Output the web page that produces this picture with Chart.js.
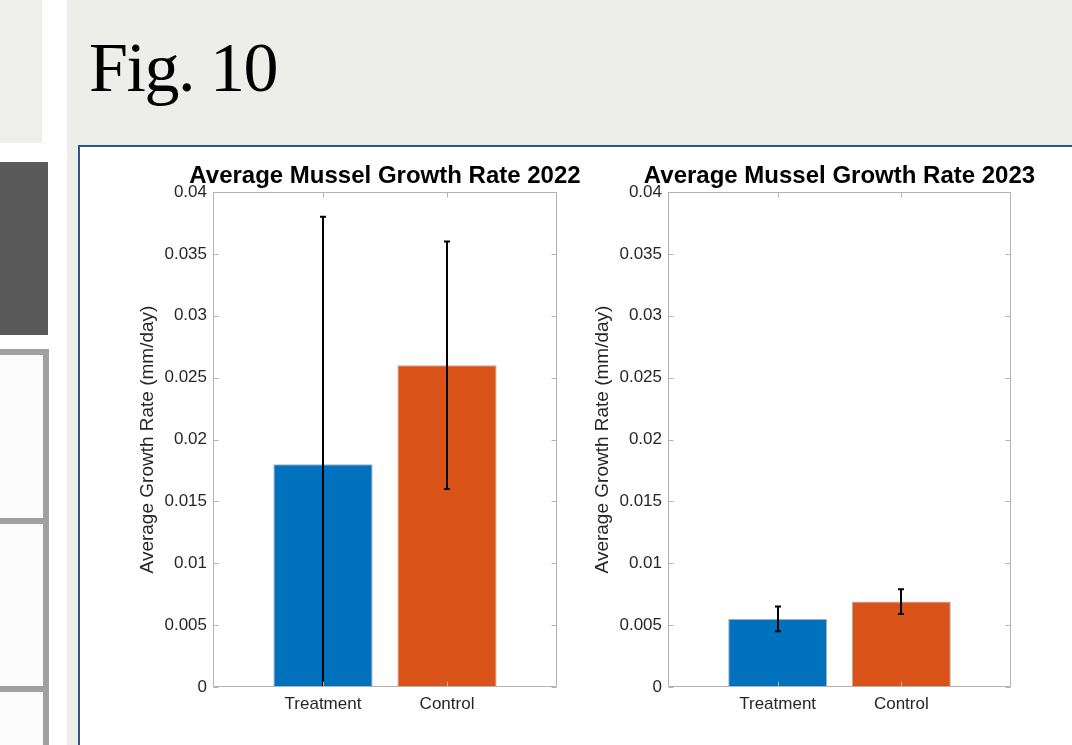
<!DOCTYPE html>
<html>
<head>
<meta charset="utf-8">
<title>Fig. 10</title>
<script src="https://cdn.jsdelivr.net/npm/chart.js@4.4.0/dist/chart.umd.min.js"></script>
<style>
  body { margin: 0; width: 1072px; height: 745px; overflow: hidden; background: #fff; position: relative; }
  .abs { position: absolute; }
  .bar { position: absolute; background: #a0a0a0; }
  #fig { left: 89px; top: 33px; font-family: "Liberation Serif", serif; font-size: 70px; line-height: 70px; letter-spacing: -1.5px; color: #000; }
</style>
</head>
<body>
<!-- slide pieces around the figure -->
<div class="abs" style="left:0;top:0;width:42px;height:143px;background:#eeeeec"></div>
<div class="abs" style="left:0;top:162px;width:48px;height:173px;background:#595959"></div>
<div class="abs" style="left:0;top:349px;width:49px;height:396px;background:#fbfbfb"></div>
<div class="bar" style="left:0;top:349px;width:49px;height:6px"></div>
<div class="bar" style="left:0;top:518px;width:49px;height:6px"></div>
<div class="bar" style="left:0;top:686px;width:49px;height:6px"></div>
<div class="bar" style="left:43px;top:349px;width:6px;height:396px"></div>
<div class="abs" style="left:67px;top:0;width:1005px;height:745px;background:#ededea"></div>
<div class="abs" id="fig">Fig. 10</div>
<div class="abs" style="left:78px;top:145px;width:1000px;height:620px;border:2px solid #2c5593;background:#fff"></div>
<div class="abs" style="left:120px;top:148px"><canvas id="chart2022" width="470" height="597"></canvas></div>
<div class="abs" style="left:580px;top:148px"><canvas id="chart2023" width="470" height="597"></canvas></div>

<script>
// data
const categories = ['Treatment', 'Control'];
const growth2022 = [0.018, 0.026];
const err2022 = [0.020, 0.010];
const growth2023 = [0.0055, 0.0069];
const err2023 = [0.001, 0.001];
const yTicks = [0, 0.005, 0.01, 0.015, 0.02, 0.025, 0.03, 0.035, 0.04];
const barColors = ['#0072BD', '#D95319'];

const FONT = '"Liberation Sans", Arial, sans-serif';

// error bars, matlab style box with inward ticks, and the title
// (title drawn here so it can be wider than the plot and still centred on it)
const matlabAxes = {
  id: 'matlabAxes',
  afterDatasetsDraw(chart, args, opts) {
    const ctx = chart.ctx;
    const a = chart.chartArea;
    const x = chart.scales.x, y = chart.scales.y;
    const vals = chart.data.datasets[0].data;

    ctx.save();
    ctx.beginPath();
    ctx.rect(a.left, a.top, a.right - a.left, a.bottom - a.top);
    ctx.clip();
    ctx.strokeStyle = '#000';
    ctx.lineWidth = 2;
    opts.errors.forEach(function (e, i) {
      const v = vals[i].y;
      const px = Math.round(x.getPixelForValue(i + 1));
      const hi = y.getPixelForValue(v + e);
      const lo = y.getPixelForValue(v - e);
      ctx.beginPath();
      ctx.moveTo(px, hi); ctx.lineTo(px, lo);
      ctx.moveTo(px - 3, hi); ctx.lineTo(px + 3, hi);
      ctx.moveTo(px - 3, lo); ctx.lineTo(px + 3, lo);
      ctx.stroke();
    });
    ctx.restore();

    ctx.save();
    ctx.strokeStyle = '#b3b3b3';
    ctx.lineWidth = 1;
    const L = Math.round(a.left) + 0.5, R = Math.round(a.right) - 0.5;
    const T = Math.round(a.top) + 0.5, B = Math.round(a.bottom) - 0.5;
    ctx.strokeRect(L, T, R - L, B - T);
    ctx.beginPath();
    yTicks.forEach(function (t) {
      const py = Math.round(y.getPixelForValue(t)) + 0.5;
      ctx.moveTo(L, py); ctx.lineTo(L + 5, py);
      ctx.moveTo(R, py); ctx.lineTo(R - 5, py);
    });
    categories.forEach(function (c, i) {
      const px = Math.round(x.getPixelForValue(i + 1)) + 0.5;
      ctx.moveTo(px, B); ctx.lineTo(px, B - 5);
      ctx.moveTo(px, T); ctx.lineTo(px, T + 5);
    });
    ctx.stroke();

    ctx.fillStyle = '#000';
    ctx.font = 'bold 24px ' + FONT;
    ctx.textAlign = 'center';
    ctx.textBaseline = 'alphabetic';
    ctx.fillText(opts.title, (a.left + a.right) / 2, a.top - 9);
    ctx.restore();
  }
};

function makeChart(id, title, values, errors, axisWidth, rightPad, yTitlePad) {
  return new Chart(document.getElementById(id), {
    type: 'bar',
    data: {
      datasets: [{
        data: values.map(function (v, i) { return {x: i + 1, y: v}; }),
        backgroundColor: barColors,
        borderColor: 'rgba(70,70,70,0.45)',
        borderWidth: 1,
        barPercentage: 0.8,
        categoryPercentage: 1
      }]
    },
    options: {
      responsive: false,
      animation: false,
      layout: { padding: { top: 44, right: rightPad, bottom: 0, left: 0 } },
      plugins: {
        legend: { display: false },
        tooltip: { enabled: false },
        title: { display: false },
        matlabAxes: { errors: errors, title: title }
      },
      scales: {
        x: {
          type: 'linear',
          offset: false,
          min: 0.113,
          max: 2.887,
          grid: { display: false, drawTicks: false },
          border: { display: false },
          afterBuildTicks: function (scale) {
            scale.ticks = categories.map(function (c, i) { return {value: i + 1}; });
          },
          afterFit: function (scale) { scale.height = 58; },
          ticks: {
            padding: 7,
            color: '#262626',
            font: { family: FONT, size: 17 },
            callback: function (v) { return categories[v - 1]; }
          }
        },
        y: {
          min: 0,
          max: 0.04,
          grid: { display: false, drawTicks: false },
          border: { display: false },
          afterBuildTicks: function (scale) {
            scale.ticks = yTicks.map(function (t) { return {value: t}; });
          },
          afterFit: function (scale) { scale.width = axisWidth; },
          ticks: {
            padding: 6,
            color: '#262626',
            font: { family: FONT, size: 17 },
            callback: function (v) { return String(+v.toFixed(3)); }
          },
          title: {
            display: true,
            text: 'Average Growth Rate (mm/day)',
            color: '#262626',
            font: { family: FONT, size: 19 },
            padding: { top: yTitlePad, bottom: 0 }
          }
        }
      }
    },
    plugins: [matlabAxes]
  });
}

makeChart('chart2022', 'Average Mussel Growth Rate 2022', growth2022, err2022, 93, 33, 16.6);
makeChart('chart2023', 'Average Mussel Growth Rate 2023', growth2023, err2023, 88, 39, 11.6);
</script>
</body>
</html>
